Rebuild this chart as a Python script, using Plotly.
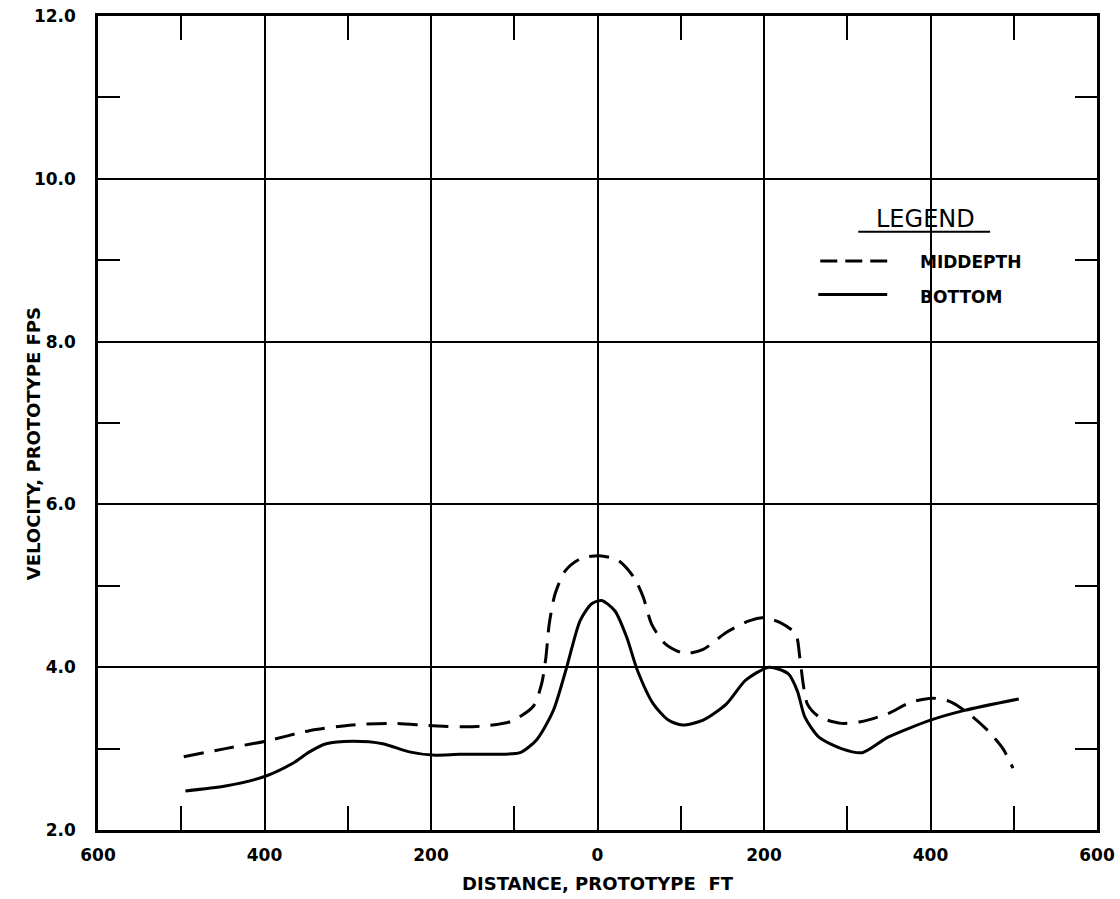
import plotly.graph_objects as go

# Middepth velocity (dashed)
mid_x = [-497, -447, -399, -346, -294, -246, -198, -146, -105, -77, -67, -62, -58, -51, -39, -21, 2, 25, 44, 55, 65, 81, 104, 127, 155, 182, 201, 219, 238, 243, 247, 252, 266, 293, 316, 349, 376, 402, 423, 446, 469, 487, 499]
mid_y = [2.90, 3.00, 3.09, 3.22, 3.29, 3.31, 3.28, 3.27, 3.33, 3.52, 3.80, 4.12, 4.53, 4.90, 5.18, 5.33, 5.37, 5.31, 5.10, 4.86, 4.53, 4.29, 4.17, 4.22, 4.43, 4.57, 4.61, 4.55, 4.41, 4.12, 3.80, 3.55, 3.39, 3.31, 3.33, 3.43, 3.57, 3.62, 3.58, 3.43, 3.22, 3.00, 2.76]

# Bottom velocity (solid)
bot_x = [-495, -447, -399, -366, -346, -326, -294, -258, -226, -198, -165, -125, -93, -73, -53, -37, -21, -7, 5, 21, 35, 48, 67, 85, 102, 127, 155, 178, 206, 229, 240, 249, 266, 293, 318, 349, 400, 441, 506]
bot_y = [2.48, 2.54, 2.66, 2.82, 2.96, 3.06, 3.09, 3.06, 2.96, 2.92, 2.93, 2.93, 2.95, 3.11, 3.47, 4.00, 4.57, 4.78, 4.82, 4.69, 4.37, 3.96, 3.55, 3.35, 3.29, 3.35, 3.55, 3.84, 4.00, 3.92, 3.71, 3.39, 3.14, 3.00, 2.95, 3.14, 3.35, 3.47, 3.61]

x_tickvals = [-600, -400, -200, 0, 200, 400, 600]
x_ticktext = ["600", "400", "200", "0", "200", "400", "600"]
y_tickvals = [2, 4, 6, 8, 10, 12]
y_ticktext = ["2.0", "4.0", "6.0", "8.0", "10.0", "12.0"]

series_names = ["MIDDEPTH", "BOTTOM"]
x_title = "DISTANCE, PROTOTYPE  FT"
y_title = "VELOCITY, PROTOTYPE FPS"

FONT = "DejaVu Sans"
DASH = "20px,11px"

fig = go.Figure()
fig.add_trace(go.Scatter(x=mid_x, y=mid_y, mode="lines", name=series_names[0], showlegend=False,
                         line=dict(color="black", width=3, dash=DASH, shape="spline", smoothing=0.7)))
fig.add_trace(go.Scatter(x=bot_x, y=bot_y, mode="lines", name=series_names[1], showlegend=False,
                         line=dict(color="black", width=3, shape="spline", smoothing=0.7)))

axis_common = dict(showline=True, linecolor="black", linewidth=2.5, mirror="ticks",
                   showgrid=True, gridcolor="black", gridwidth=1.5, zeroline=False,
                   ticks="", automargin=False,
                   tickfont=dict(family=FONT, size=17, color="black", weight="bold"))

fig.update_xaxes(range=[-600, 600], tickvals=x_tickvals, ticktext=x_ticktext,
                 minor=dict(dtick=200, tick0=-500, ticks="inside", ticklen=24, tickwidth=2, tickcolor="black", showgrid=False),
                 ticklabelstandoff=8,
                 title=dict(text=x_title, font=dict(family=FONT, size=18, color="black", weight="bold"), standoff=14),
                 **axis_common)
fig.update_yaxes(range=[2, 12], tickvals=y_tickvals, ticktext=y_ticktext,
                 minor=dict(dtick=2, tick0=3, ticks="inside", ticklen=22, tickwidth=2, tickcolor="black", showgrid=False),
                 ticklabelstandoff=16,
                 **axis_common)

# Y-axis title placed as in the original (close to the tick labels, slightly below centre)
fig.add_annotation(xref="paper", yref="paper", x=-0.065, y=0.474, text=y_title, showarrow=False,
                   textangle=-90, xanchor="center", yanchor="middle",
                   font=dict(family=FONT, size=18, color="black", weight="bold"))

# Legend (drawn manually to match the original layout)
fig.add_annotation(xref="paper", yref="paper", x=0.828, y=0.751, text="LEGEND", showarrow=False,
                   font=dict(family=FONT, size=24, color="black"), xanchor="center", yanchor="middle")
fig.add_shape(type="line", xref="paper", yref="paper", x0=0.761, x1=0.893, y0=0.735, y1=0.735,
              line=dict(color="black", width=2))
fig.add_shape(type="line", xref="paper", yref="paper", x0=0.723, x1=0.790, y0=0.699, y1=0.699,
              line=dict(color="black", width=3, dash="17px,8px"))
fig.add_shape(type="line", xref="paper", yref="paper", x0=0.721, x1=0.790, y0=0.658, y1=0.658,
              line=dict(color="black", width=3))
fig.add_annotation(xref="paper", yref="paper", x=0.821, y=0.698, text=series_names[0], showarrow=False,
                   font=dict(family=FONT, size=17, color="black", weight="bold"), xanchor="left", yanchor="middle")
fig.add_annotation(xref="paper", yref="paper", x=0.821, y=0.655, text=series_names[1], showarrow=False,
                   font=dict(family=FONT, size=17, color="black", weight="bold"), xanchor="left", yanchor="middle")

fig.update_layout(
    width=1120, height=899,
    margin=dict(l=98, r=23, t=16, b=69),
    plot_bgcolor="white", paper_bgcolor="white",
    showlegend=False,
)

fig.write_html("out.html", config={"displayModeBar": False},
               post_script="document.body.style.margin='0';document.body.style.overflow='hidden';")
